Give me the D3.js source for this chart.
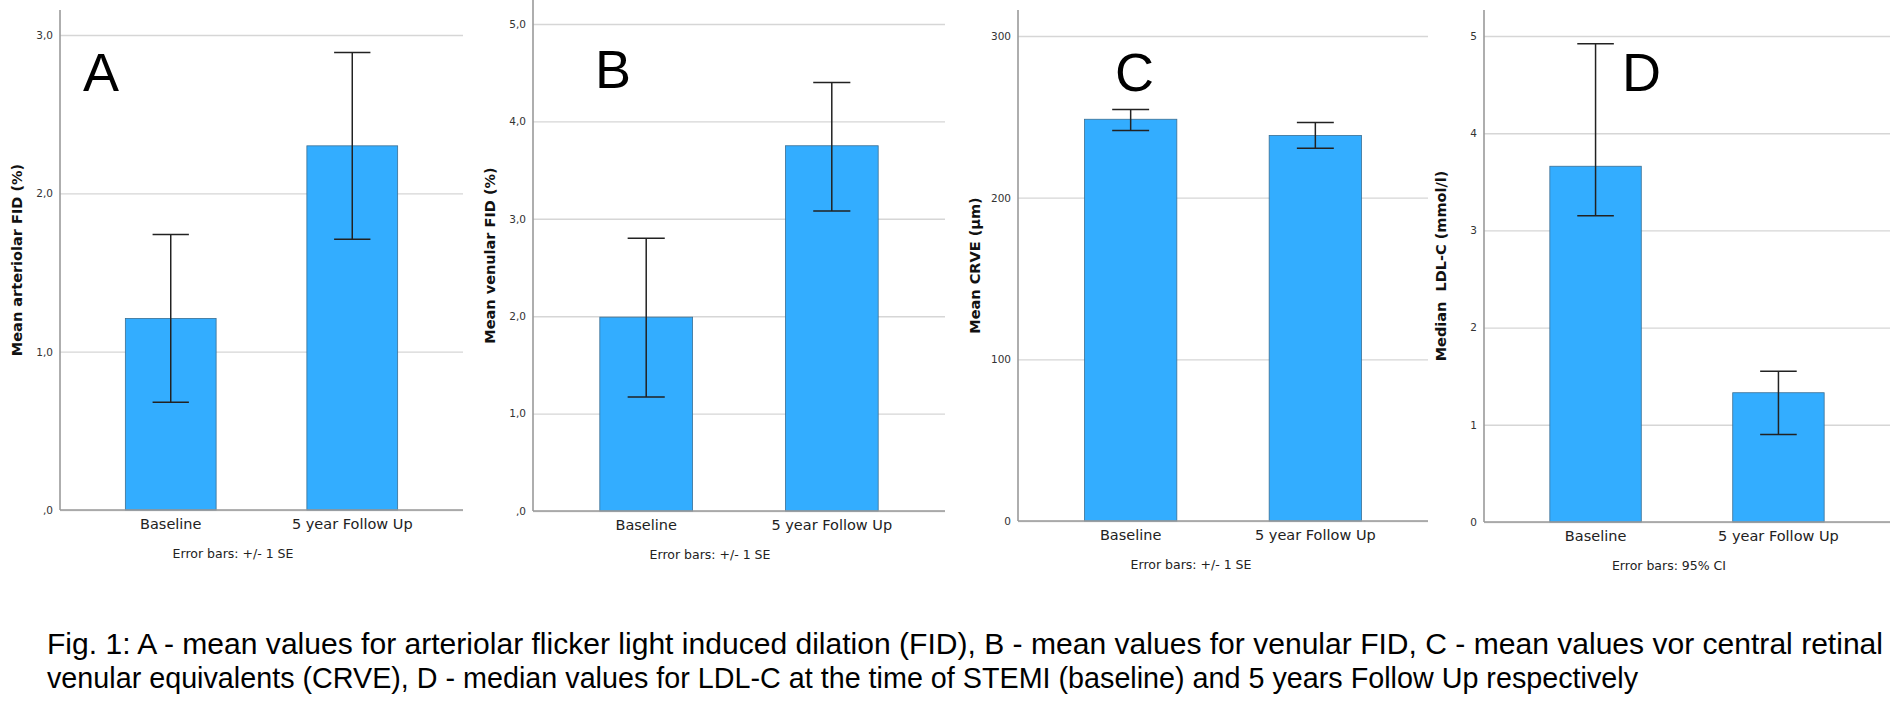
<!DOCTYPE html>
<html>
<head>
<meta charset="utf-8">
<script src="https://cdn.jsdelivr.net/npm/d3@7"></script>
<style>
  body { margin: 0; background: #fff; }
  svg { display: block; }
  text { font-family: "DejaVu Sans", sans-serif; }
</style>
</head>
<body>
<script>
// data
const categories = ["Baseline", "5 year Follow Up"];

const meansA = [1.21, 2.30];
const lowA = [0.68, 1.71];
const highA = [1.74, 2.89];

const meansB = [1.99, 3.75];
const lowB = [1.17, 3.08];
const highB = [2.80, 4.40];

const meansC = [248.5, 238.5];
const lowC = [241.5, 230.5];
const highC = [254.5, 246.5];

const mediansD = [3.66, 1.33];
const lowD = [3.15, 0.90];
const highD = [4.92, 1.55];

const ticksA = [0, 1, 2, 3];
const tickLabelsA = [",0", "1,0", "2,0", "3,0"];
const ticksB = [0, 1, 2, 3, 4, 5];
const tickLabelsB = [",0", "1,0", "2,0", "3,0", "4,0", "5,0"];
const ticksC = [0, 100, 200, 300];
const tickLabelsC = ["0", "100", "200", "300"];
const ticksD = [0, 1, 2, 3, 4, 5];
const tickLabelsD = ["0", "1", "2", "3", "4", "5"];

const yTitles = ["Mean arteriolar FID (%)", "Mean venular FID (%)", "Mean CRVE (µm)", "Median  LDL-C (mmol/l)"];
const errorNotes = ["Error bars: +/- 1 SE", "Error bars: +/- 1 SE", "Error bars: +/- 1 SE", "Error bars: 95% CI"];
const letters = ["A", "B", "C", "D"];

const captionLines = [
  "Fig. 1: A - mean values for arteriolar flicker light induced dilation (FID), B - mean values for venular FID, C - mean values vor central retinal",
  "venular equivalents (CRVE), D - median values for LDL-C at the time of STEMI (baseline) and 5 years Follow Up respectively"
];

// panel geometry (pixels)
const layout = [
  { x0: 60,   x1: 463,  yBase: 510, yTopTick: 35, axisTop: 10, letterX: 83,   letterY: 91, noteX: 233 },
  { x0: 533,  x1: 945,  yBase: 511, yTopTick: 24, axisTop: 0,  letterX: 595,  letterY: 88, noteX: 710 },
  { x0: 1018, x1: 1428, yBase: 521, yTopTick: 36, axisTop: 10, letterX: 1115, letterY: 91, noteX: 1191 },
  { x0: 1484, x1: 1890, yBase: 522, yTopTick: 36, axisTop: 10, letterX: 1622, letterY: 91, noteX: 1669 }
];

const panels = [
  { vals: meansA, lo: lowA, hi: highA, ticks: ticksA, labels: tickLabelsA },
  { vals: meansB, lo: lowB, hi: highB, ticks: ticksB, labels: tickLabelsB },
  { vals: meansC, lo: lowC, hi: highC, ticks: ticksC, labels: tickLabelsC },
  { vals: mediansD, lo: lowD, hi: highD, ticks: ticksD, labels: tickLabelsD }
];

const width = 1894, height = 710;
const barFill = "#33adff";
const barStroke = "#3b6f93";
const gridColor = "#d6d6d6";
const axisColor = "#9a9a9a";

const svg = d3.select("body").append("svg")
  .attr("width", width)
  .attr("height", height);

panels.forEach((p, k) => {
  const L = layout[k];
  const g = svg.append("g");

  const x = d3.scaleBand()
    .domain(categories)
    .range([L.x0, L.x1])
    .paddingInner(0.5)
    .paddingOuter(0.36);

  const y = d3.scaleLinear()
    .domain([0, d3.max(p.ticks)])
    .range([L.yBase, L.yTopTick]);

  // gridlines + tick labels
  const yAxis = d3.axisLeft(y)
    .tickValues(p.ticks)
    .tickFormat((d, i) => p.labels[i])
    .tickSize(-(L.x1 - L.x0))
    .tickPadding(7);

  const ga = g.append("g")
    .attr("transform", `translate(${L.x0},0)`)
    .call(yAxis);
  ga.select(".domain").remove();
  ga.selectAll(".tick line")
    .attr("stroke", gridColor)
    .attr("stroke-width", 1.4);
  ga.selectAll(".tick text")
    .attr("fill", "#333")
    .style("font-size", "10.5px")
    .style("font-family", "DejaVu Sans, sans-serif");

  // bars
  g.selectAll("rect.bar")
    .data(p.vals)
    .join("rect")
    .attr("class", "bar")
    .attr("x", (d, i) => x(categories[i]))
    .attr("width", x.bandwidth())
    .attr("y", d => y(d))
    .attr("height", d => y(0) - y(d))
    .attr("fill", barFill)
    .attr("stroke", barStroke)
    .attr("stroke-width", 0.8);

  // axis lines
  g.append("line")
    .attr("x1", L.x0).attr("x2", L.x0)
    .attr("y1", L.axisTop).attr("y2", y(0))
    .attr("stroke", axisColor).attr("stroke-width", 1.6);
  g.append("line")
    .attr("x1", L.x0).attr("x2", L.x1)
    .attr("y1", y(0)).attr("y2", y(0))
    .attr("stroke", axisColor).attr("stroke-width", 1.6);

  // error bars
  const capW = x.bandwidth() * 0.4;
  const eb = g.selectAll("g.err")
    .data(p.vals.map((d, i) => ({ c: categories[i], lo: p.lo[i], hi: p.hi[i] })))
    .join("g")
    .attr("class", "err")
    .attr("stroke", "#222")
    .attr("stroke-width", 1.5);
  eb.append("line")
    .attr("x1", d => x(d.c) + x.bandwidth() / 2)
    .attr("x2", d => x(d.c) + x.bandwidth() / 2)
    .attr("y1", d => y(d.lo))
    .attr("y2", d => y(d.hi));
  eb.append("line")
    .attr("x1", d => x(d.c) + x.bandwidth() / 2 - capW / 2)
    .attr("x2", d => x(d.c) + x.bandwidth() / 2 + capW / 2)
    .attr("y1", d => y(d.hi))
    .attr("y2", d => y(d.hi));
  eb.append("line")
    .attr("x1", d => x(d.c) + x.bandwidth() / 2 - capW / 2)
    .attr("x2", d => x(d.c) + x.bandwidth() / 2 + capW / 2)
    .attr("y1", d => y(d.lo))
    .attr("y2", d => y(d.lo));

  // category labels
  const xAxis = d3.axisBottom(x).tickSize(0).tickPadding(9);
  const gx = g.append("g")
    .attr("transform", `translate(0,${y(0)})`)
    .call(xAxis);
  gx.select(".domain").remove();
  gx.selectAll(".tick text")
    .attr("fill", "#222")
    .style("font-size", "14.5px")
    .style("font-family", "DejaVu Sans, sans-serif");

  // error bar note
  g.append("text")
    .attr("x", L.noteX)
    .attr("y", y(0) + 48)
    .attr("text-anchor", "middle")
    .attr("fill", "#222")
    .style("font-size", "12.5px")
    .text(errorNotes[k]);

  // y title
  const midY = (L.axisTop + y(0)) / 2;
  g.append("text")
    .attr("transform", `translate(${L.x0 - 38},${midY}) rotate(-90)`)
    .attr("text-anchor", "middle")
    .attr("fill", "#111")
    .style("font-size", "14.5px")
    .style("font-weight", "bold")
    .style("white-space", "pre")
    .text(yTitles[k]);

  // panel letter
  g.append("text")
    .attr("x", L.letterX)
    .attr("y", L.letterY)
    .attr("fill", "#000")
    .style("font-family", "Liberation Sans, Arial, sans-serif")
    .style("font-size", "54px")
    .text(letters[k]);
});

// caption (justified first line, condensed face)
const capEnds = [1883, 1638];
captionLines.forEach((line, i) => {
  svg.append("text")
    .attr("x", 47)
    .attr("y", 654 + i * 34)
    .attr("fill", "#000")
    .attr("textLength", capEnds[i] - 47)
    .attr("lengthAdjust", "spacingAndGlyphs")
    .style("font-family", "Liberation Sans, Arial, sans-serif")
    .style("font-size", "30px")
    .text(line);
});
</script>
</body>
</html>
